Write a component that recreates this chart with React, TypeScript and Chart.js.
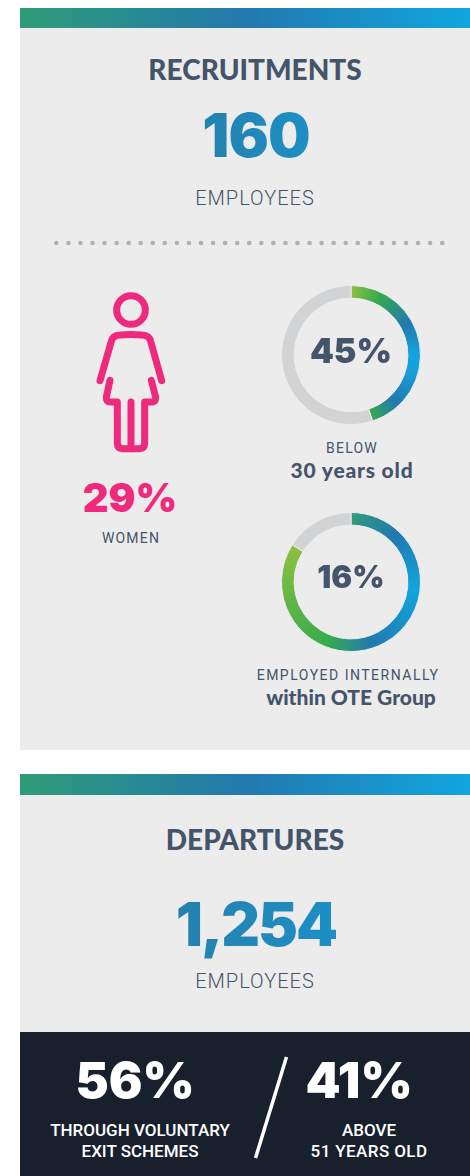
import React, { useEffect, useRef } from "react";
import { Chart, registerables } from "chart.js";

Chart.register(...registerables);

const belowThirty = [45, 55];
const internal = [84, 16];
const belowThirtyStops: [number, string][] = [
  [0, "#8dc03f"], [0.07, "#36ac4d"], [0.17, "#2279ae"], [0.25, "#11a6df"], [0.29, "#14a0d8"], [0.38, "#2279ae"], [0.45, "#36ac4d"], [1, "#36ac4d"],
];
const internalStops: [number, string][] = [
  [0, "#2f9c7c"], [0.12, "#2279ae"], [0.27, "#11a6df"], [0.45, "#2279ae"], [0.56, "#36ac4d"], [0.84, "#8dc03f"], [1, "#8dc03f"],
];
const GREY = "#d1d3d5";
const PANEL = "#ececec";
const SLATE = "#44546a";
const DOT_COUNT = 33;

function Ring({ values, stops, cx, cy }: { values: number[]; stops: [number, string][]; cx: number; cy: number }) {
  const ref = useRef<HTMLCanvasElement>(null);
  useEffect(() => {
    const canvas = ref.current!;
    const ctx = canvas.getContext("2d")!;
    const g = (ctx as any).createConicGradient(-Math.PI / 2, 75, 75);
    stops.forEach(([o, c]) => g.addColorStop(o, c));
    const chart = new Chart(canvas, {
      type: "doughnut",
      data: { labels: ["Share", "Rest"], datasets: [{ data: values, backgroundColor: [g, GREY], borderColor: PANEL, borderWidth: 1, borderAlign: "center" }] },
      options: {
        animation: false,
        responsive: false,
        radius: 69.5,
        cutout: 61,
        plugins: { legend: { display: false }, tooltip: { enabled: false } },
        layout: { padding: 0 },
      } as any,
    });
    return () => chart.destroy();
  }, []);
  return <canvas ref={ref} width={150} height={150} style={{ position: "absolute", left: cx - 75, top: cy - 75, width: 150, height: 150 }} />;
}

function T(p: { c: number; y: number; s: number; w?: number; f?: string; col?: string; ls?: number; grad?: string; children: React.ReactNode }) {
  const st: React.CSSProperties = {
    position: "absolute", left: p.c - 230, width: 460, top: p.y - p.s, lineHeight: `${p.s * 2}px`, textAlign: "center", whiteSpace: "nowrap",
    fontFamily: p.f ?? "Lato", fontSize: p.s, fontWeight: p.w ?? 900, color: p.col ?? SLATE, letterSpacing: p.ls ?? 0,
  };
  if (p.grad) {
    return <div style={st}><span style={{ background: p.grad, WebkitBackgroundClip: "text", backgroundClip: "text", color: "transparent" }}>{p.children}</span></div>;
  }
  return <div style={st}>{p.children}</div>;
}

const BAR = "linear-gradient(90deg,#2f9c78 0%,#2279ae 50%,#11a6df 100%)";
const NUM = "linear-gradient(90deg,#2581ad 0%,#1d8fc6 100%)";
const R = "Roboto";
const N = "Inter";

export default function App() {
  return (
    <div style={{ position: "absolute", left: 0, top: 0, width: 470, height: 1176, background: "#fff", overflow: "hidden" }}>
      <div style={{ position: "absolute", left: 20, top: 8, width: 450, height: 20, background: BAR }} />
      <div style={{ position: "absolute", left: 20, top: 28, width: 450, height: 722, background: PANEL }} />
      <div style={{ position: "absolute", left: 20, top: 774, width: 450, height: 21, background: BAR }} />
      <div style={{ position: "absolute", left: 20, top: 795, width: 450, height: 237, background: PANEL }} />
      <div style={{ position: "absolute", left: 20, top: 1032, width: 450, height: 144, background: "#181f2d" }} />

      <T c={255} y={69} s={28}>RECRUITMENTS</T>
      <T c={256} y={135} s={60} f={N} ls={-1} grad={NUM}>160</T>
      <T c={255} y={198} s={20} f={R} w={300} ls={1}>EMPLOYEES</T>

      <svg width={470} height={20} style={{ position: "absolute", left: 0, top: 233 }}>
        {Array.from({ length: DOT_COUNT }, (_, i) => <circle key={i} cx={56.3 + i * 12.06} cy={10} r={2.3} fill="#adb1b8" />)}
      </svg>

      <svg width={120} height={180} viewBox="0 0 360 540" style={{ position: "absolute", left: 70, top: 280 }} fill="none" stroke="#ef2a7d" strokeWidth={21} strokeLinecap="round" strokeLinejoin="round">
        <circle cx={183} cy={90} r={43} />
        <path d="M90 302 L124 184 Q128 166 150 165 Q183 162 216 165 Q238 166 242 184 L275 302" />
        <path d="M120 301 L109 352 Q107 366 122 366 L142 366 L142 490 Q142 506 158 506 L208 506 Q224 506 224 490 L224 366 L244 366 Q259 366 257 352 L244 301" />
        <path d="M183 366 L183 506" />
      </svg>
      <T c={130} y={498} s={40} f={N} col="#ef2a7d">29%</T>
      <T c={131} y={538} s={14} f={R} w={400} ls={1.2}>WOMEN</T>

      <Ring values={belowThirty} stops={belowThirtyStops} cx={351} cy={354.5} />
      <T c={351} y={351} s={34} f={N}>45%</T>
      <T c={352} y={448} s={14} f={R} w={400} ls={1.2}>BELOW</T>
      <T c={352} y={470} s={21} w={900} ls={0.8}>30 years old</T>

      <Ring values={internal} stops={internalStops} cx={351} cy={582} />
      <T c={351} y={577} s={31} f={N}>16%</T>
      <T c={348} y={675} s={14} f={R} w={400} ls={1.5}>EMPLOYED INTERNALLY</T>
      <T c={351} y={697} s={21} w={900}>within OTE Group</T>

      <T c={255} y={839} s={28}>DEPARTURES</T>
      <T c={256} y={924} s={60} f={N} ls={-2} grad={NUM}>1,254</T>
      <T c={255} y={981} s={20} f={R} w={300} ls={1}>EMPLOYEES</T>

      <T c={135} y={1080} s={50} f={N} col="#fff">56%</T>
      <T c={359} y={1080} s={50} f={N} col="#fff">41%</T>
      <svg width={470} height={144} style={{ position: "absolute", left: 0, top: 1032 }}>
        <line x1={286.5} y1={25} x2={255.5} y2={126} stroke="#fff" strokeWidth={3.5} />
      </svg>
      <T c={140} y={1130} s={17} f={R} w={500} col="#fff">THROUGH VOLUNTARY</T>
      <T c={140} y={1151} s={17} f={R} w={500} col="#fff">EXIT SCHEMES</T>
      <T c={369} y={1130} s={17} f={R} w={500} col="#fff">ABOVE</T>
      <T c={369} y={1151} s={17} f={R} w={500} col="#fff" ls={0.4}>51 YEARS OLD</T>
    </div>
  );
}
